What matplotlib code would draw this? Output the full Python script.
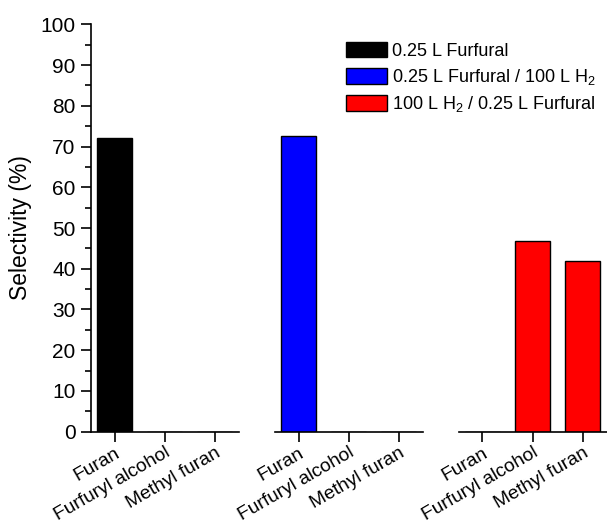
import matplotlib
matplotlib.use("Agg")
import matplotlib.pyplot as plt
from matplotlib.ticker import MultipleLocator

plt.rcParams['font.family'] = ['Liberation Sans', 'DejaVu Sans']
plt.rcParams['mathtext.default'] = 'regular'

categories = ["Furan", "Furfuryl alcohol", "Methyl furan"]
series_labels = ["0.25 L Furfural",
                 "0.25 L Furfural / 100 L H$_2$",
                 "100 L H$_2$ / 0.25 L Furfural"]
series_colors = ["#000000", "#0000ff", "#ff0000"]
sel_furfural = [72.0, 0.0, 0.0]
sel_furfural_h2 = [72.7, 0.0, 0.0]
sel_h2_furfural = [0.0, 46.8, 42.0]
series_values = [sel_furfural, sel_furfural_h2, sel_h2_furfural]
y_ticks = [0, 10, 20, 30, 40, 50, 60, 70, 80, 90, 100]

W, H = 607, 524
fig = plt.figure(figsize=(W / 100, H / 100), dpi=100)

lefts = [91, 275, 459]
ax_w = 148
bottom = (H - 431.7) / H
top = 1 - 24.3 / H
axes = []
handles = []
for i, (vals, col, lab) in enumerate(zip(series_values, series_colors, series_labels)):
    ax = fig.add_axes([lefts[i] / W, bottom, ax_w / W, top - bottom])
    x = list(range(len(categories)))
    bars = ax.bar(x, vals, width=0.70, color=col, edgecolor='black',
                  linewidth=1.0, label=lab, zorder=2)
    handles.append(bars)
    ax.set_xlim(-0.47, 2.49)
    ax.set_ylim(0, 100)
    ax.set_xticks(x)
    ax.set_xticklabels(categories, rotation=30, ha='right',
                       rotation_mode='anchor', fontsize=13.8)
    for s in ['top', 'right']:
        ax.spines[s].set_visible(False)
    ax.spines['bottom'].set_linewidth(1.2)
    ax.tick_params(axis='x', direction='out', length=7, width=1.2, pad=2)
    if i == 0:
        ax.spines['left'].set_linewidth(1.2)
        ax.set_yticks(y_ticks)
        ax.yaxis.set_minor_locator(MultipleLocator(5))
        ax.tick_params(axis='y', which='major', direction='out', length=7,
                       width=1.2, labelsize=15, pad=4)
        ax.tick_params(axis='y', which='minor', direction='out', length=4,
                       width=1.2)
        ax.set_ylabel("Selectivity (%)", fontsize=16.5, labelpad=6)
    else:
        ax.spines['left'].set_visible(False)
        ax.tick_params(axis='y', which='both', left=False, labelleft=False)
    ax.patch.set_alpha(0)
    axes.append(ax)

fig.legend(handles=handles, labels=series_labels, loc='upper left',
           bbox_to_anchor=(344 / W, 1 - 40 / H), frameon=False,
           fontsize=13, handlelength=2.3, handleheight=0.95,
           handletextpad=0.25, labelspacing=0.4, borderpad=0.1,
           borderaxespad=0)

fig.savefig("out.png", dpi=100)
